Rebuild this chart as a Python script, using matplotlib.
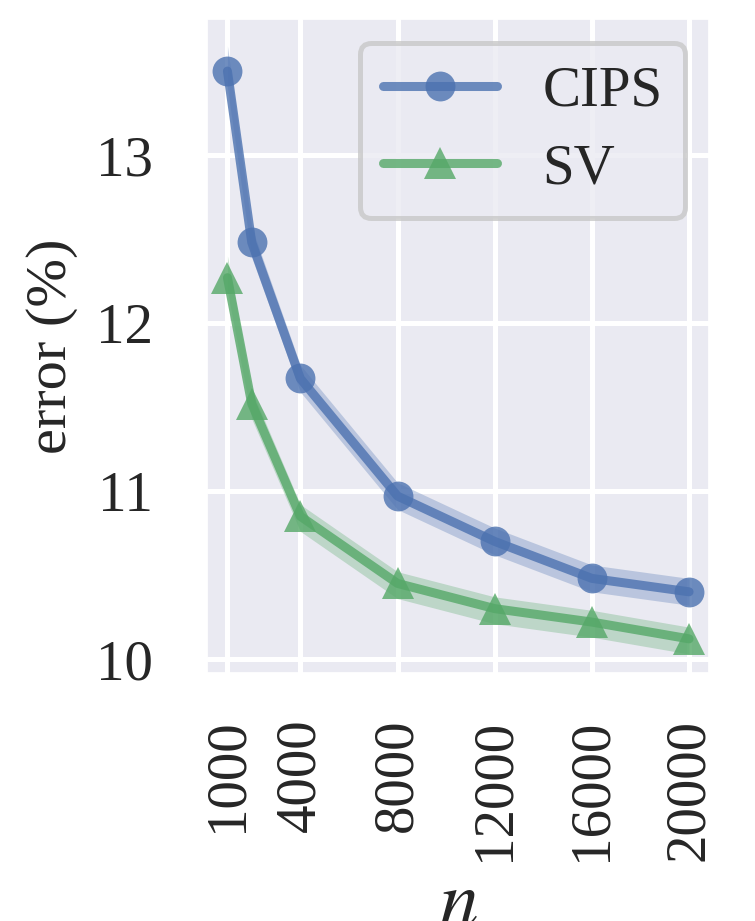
import numpy as np
import matplotlib
matplotlib.use("Agg")
import matplotlib.pyplot as plt
import seaborn as sns

# data
n_values = [1000, 2000, 4000, 8000, 12000, 16000, 20000]
tick_values = [1000, 4000, 8000, 12000, 16000, 20000]

cips_mean = [13.50, 12.48, 11.67, 10.97, 10.70, 10.48, 10.40]
cips_low = [13.40, 12.39, 11.59, 10.89, 10.62, 10.40, 10.32]
cips_high = [13.65, 12.57, 11.75, 11.05, 10.78, 10.56, 10.48]

sv_mean = [12.27, 11.52, 10.85, 10.45, 10.30, 10.22, 10.12]
sv_low = [12.19, 11.43, 10.76, 10.36, 10.21, 10.13, 10.03]
sv_high = [12.40, 11.60, 10.92, 10.52, 10.37, 10.29, 10.19]

sns.set_theme(style="darkgrid")
plt.rcParams["font.family"] = "serif"
plt.rcParams["font.serif"] = ["Liberation Serif", "DejaVu Serif"]
plt.rcParams["mathtext.fontset"] = "stix"
plt.rcParams["text.color"] = "#262626"

blue = "#4C72B0"
green = "#55A868"
serif = "Liberation Serif"

fig = plt.figure(figsize=(7.55, 9.21), dpi=100)
ax = fig.add_axes([0.2742, 0.2693, 0.6649, 0.7101])

ax.fill_between(n_values, cips_low, cips_high, color=blue, alpha=0.3, lw=0)
ax.fill_between(n_values, sv_low, sv_high, color=green, alpha=0.3, lw=0)
ax.plot(n_values, cips_mean, color=blue, marker="o", ms=21.5, mew=0,
        lw=6.5, alpha=0.8, label="CIPS", solid_capstyle="round")
ax.plot(n_values, sv_mean, color=green, marker="^", ms=23, mew=0,
        lw=6.5, alpha=0.8, label="SV", solid_capstyle="round")

ax.set_xlim(160, 20820)
ax.set_ylim(9.917, 13.81)
ax.set_xticks(tick_values)
ax.set_xticklabels([str(v) for v in tick_values], rotation=90, family=serif)
ax.set_yticks([10, 11, 12, 13])
ax.set_yticklabels(["10", "11", "12", "13"], family=serif)
ax.grid(True, color="white", lw=3.6)
ax.tick_params(axis="both", labelsize=41, length=0, colors="#262626")
ax.tick_params(axis="y", pad=39)
ax.tick_params(axis="x", pad=33)

ax.set_ylabel("error (%)", fontsize=42, labelpad=13, color="#262626", family=serif)
ax.set_xlabel("$n$", fontsize=56, labelpad=7, color="#262626")

leg = ax.legend(loc="upper right", handlelength=2.0,
                handletextpad=0.8, labelspacing=0.45, borderpad=0.4,
                borderaxespad=0.42, fancybox=True, framealpha=0.8,
                prop={"family": serif, "size": 41})
leg.get_frame().set_edgecolor("#c8c8c8")
leg.get_frame().set_linewidth(3.6)
leg.get_frame().set_facecolor("#EAEAF2")

fig.savefig("out.png", dpi=100)
